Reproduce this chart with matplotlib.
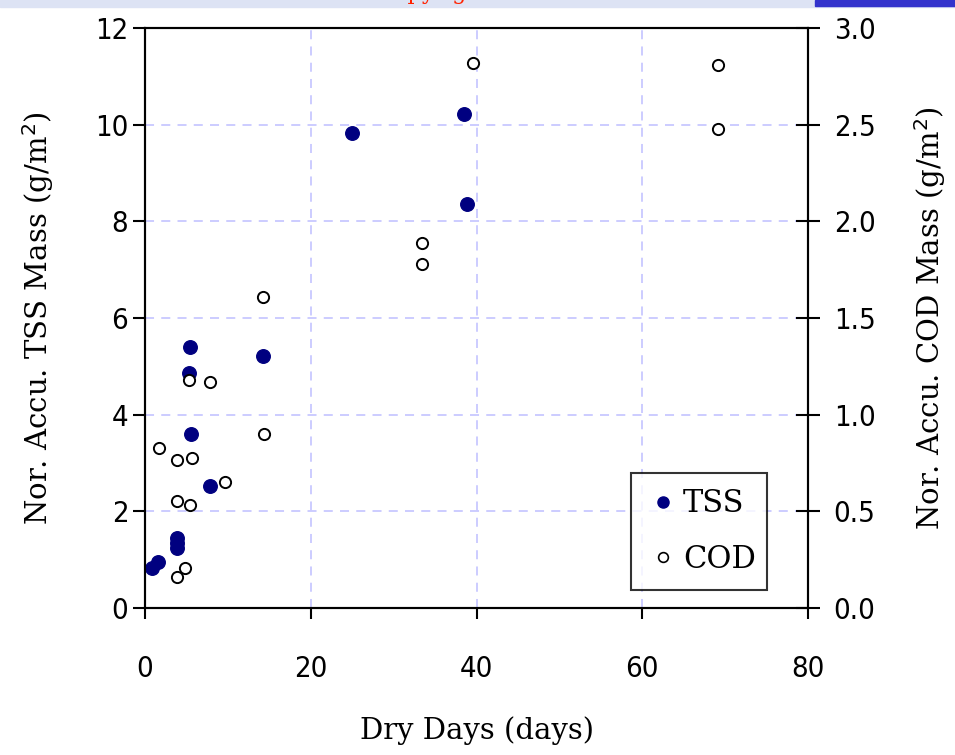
import matplotlib
matplotlib.use("Agg")
import matplotlib.pyplot as plt
from matplotlib.patches import Rectangle
from matplotlib.lines import Line2D

# data
tss_days = [0.8, 1.6, 3.9, 3.9, 3.9, 5.4, 5.35, 5.6, 7.9, 14.2, 25.0, 38.5, 38.8]
tss_mass = [0.83, 0.96, 1.25, 1.35, 1.45, 5.41, 4.86, 3.59, 2.53, 5.21, 9.82, 10.22, 8.35]

cod_days = [1.7, 3.9, 5.7, 9.65, 3.9, 5.43, 4.8, 3.9, 5.35, 7.9, 14.2, 14.4,
            33.4, 33.4, 39.6, 69.1, 69.1]
cod_mass = [0.826, 0.766, 0.778, 0.653, 0.555, 0.531, 0.205, 0.162, 1.18, 1.17,
            1.61, 0.90, 1.89, 1.78, 2.82, 2.81, 2.48]

x_ticks = [0, 20, 40, 60, 80]
left_ticks = [0, 2, 4, 6, 8, 10, 12]
right_ticks = [0.0, 0.5, 1.0, 1.5, 2.0, 2.5, 3.0]

tick_font = dict(family=["Liberation Sans Narrow", "DejaVu Sans"], stretch="condensed", size=21)
label_font = dict(family="DejaVu Serif", size=21)

fig = plt.figure(figsize=(9.55, 7.55), dpi=100)
ax = fig.add_axes([145 / 955, 1 - 608 / 755, 663 / 955, 580 / 755])
ax2 = ax.twinx()

# top banner remnant
fig.patches.append(Rectangle((0, 1 - 7 / 755), 1, 7 / 755, transform=fig.transFigure,
                             color="#dde3f4", zorder=0))
fig.patches.append(Rectangle((815 / 955, 1 - 6 / 755), 140 / 955, 6 / 755,
                             transform=fig.transFigure, color="#3333cc", zorder=1))
fig.text(0.455, 1 - 4 / 755, "Copyright", color="#ff2200", fontsize=16, family="DejaVu Serif",
         ha="center", va="bottom")

ax.set_axisbelow(True)
ax.grid(True, color="#c8c8ff", linestyle=(0, (5, 4)), linewidth=1.3)

ax.scatter(tss_days, tss_mass, s=95, color="#000080", zorder=3, clip_on=False)
ax2.scatter(cod_days, cod_mass, s=65, facecolor="white", edgecolor="black",
            linewidth=1.4, zorder=3, clip_on=False)

ax.set_xlim(0, 80)
ax.set_ylim(0, 12)
ax2.set_ylim(0, 3)

ax.set_xticks(x_ticks)
ax.set_yticks(left_ticks)
ax2.set_yticks(right_ticks)
ax2.set_yticklabels([f"{v:.1f}" for v in right_ticks])

ax.tick_params(axis="x", direction="out", length=8, width=1.5, pad=26)
ax.tick_params(axis="y", direction="out", length=9, width=1.5, pad=3)
ax2.tick_params(axis="y", direction="inout", length=17, width=1.5, pad=10)
for lab in ax.get_xticklabels() + ax.get_yticklabels() + ax2.get_yticklabels():
    lab.set_fontproperties(matplotlib.font_manager.FontProperties(**tick_font))

for a in (ax, ax2):
    for sp in a.spines.values():
        sp.set_linewidth(1.5)

ax.set_xlabel("Dry Days (days)", labelpad=24, **label_font)
ax.set_ylabel("Nor. Accu. TSS Mass (g/m$^2$)", labelpad=28, **label_font)
ax2.set_ylabel("Nor. Accu. COD Mass (g/m$^2$)", labelpad=26, **label_font)

handles = [
    Line2D([], [], marker="o", linestyle="none", markersize=8, color="#000080"),
    Line2D([], [], marker="o", linestyle="none", markersize=7, markerfacecolor="white",
           markeredgecolor="black", markeredgewidth=1.2),
]
leg = ax2.legend(handles, ["TSS", "COD"], loc="lower left",
                 bbox_to_anchor=(0.733, 0.031, 0.205, 0.196), mode="expand",
                 prop=dict(family="DejaVu Serif", size=22), frameon=True, fancybox=False,
                 edgecolor="black", handletextpad=0.1, handlelength=1.1,
                 borderpad=0.5, labelspacing=0.8, borderaxespad=0)
leg.get_frame().set_linewidth(1.5)

fig.savefig("out.png", dpi=100)
